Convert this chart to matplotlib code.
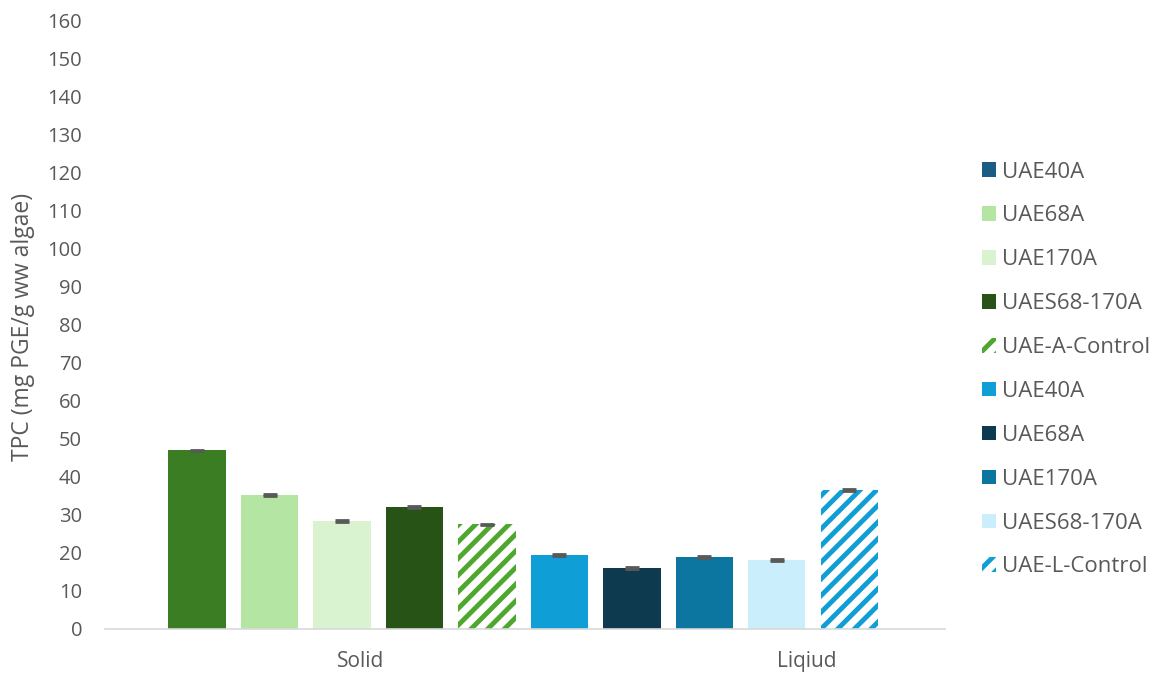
import matplotlib
matplotlib.use("Agg")
import matplotlib.pyplot as plt
from matplotlib.patches import Patch

# data
series = ["UAE40A", "UAE68A", "UAE170A", "UAES68-170A", "UAE-A-Control",
          "UAE40A", "UAE68A", "UAE170A", "UAES68-170A", "UAE-L-Control"]
values = [47.0, 35.2, 28.4, 32.1, 27.5, 19.4, 16.0, 18.9, 18.1, 36.5]
errors = [0.15, 0.2, 0.2, 0.2, 0.2, 0.2, 0.2, 0.2, 0.2, 0.2]
categories = ["Solid", "Liqiud"]
cat_pos = [2.26, 8.41]

bar_colors = ["#3b7d23", "#b4e5a2", "#d9f2d0", "#275317", "#4ea72e",
              "#0f9ed5", "#0e3a50", "#0c76a0", "#caeefb", "#0f9ed5"]
legend_colors = ["#1a5c84", "#b4e5a2", "#d9f2d0", "#275317", "#4ea72e",
                 "#0f9ed5", "#0e3a50", "#0c76a0", "#caeefb", "#0f9ed5"]
hatched = [False, False, False, False, True, False, False, False, False, True]

plt.rcParams['font.family'] = ['Open Sans', 'DejaVu Sans']
plt.rcParams['hatch.linewidth'] = 3.5
txt = "#595959"

fig = plt.figure(figsize=(11.58, 6.75), dpi=100)
ax = fig.add_axes([105/1158, 46/675, 840/1158, 609/675])

x = list(range(len(values)))
for i in x:
    if hatched[i]:
        ax.bar(i, values[i], width=0.79, facecolor="white", edgecolor=bar_colors[i],
               hatch="//", linewidth=0)
    else:
        ax.bar(i, values[i], width=0.79, color=bar_colors[i], linewidth=0)
ax.errorbar(x, values, yerr=errors, fmt="none", ecolor=txt, capsize=5, elinewidth=1,
            capthick=2)

ax.set_xlim(-1.27, 10.32)
ax.set_ylim(0, 160)
ax.set_yticks(range(0, 161, 10))
ax.set_xticks(cat_pos)
ax.set_xticklabels(categories)
ax.tick_params(axis="both", length=0, colors=txt)
ax.tick_params(axis="x", pad=16, labelsize=15)
ax.tick_params(axis="y", pad=16.5, labelsize=14.5)
for s in ["top", "right", "left"]:
    ax.spines[s].set_visible(False)
ax.spines["bottom"].set_color("#d9d9d9")
ax.spines["bottom"].set_linewidth(1.2)

# y label placed by hand like the excel one
fig.text(23/1158, 1 - 327/675, "TPC (mg PGE/g ww algae)", rotation=90,
         ha="center", va="center", fontsize=16.5, color=txt)

handles = []
for i in x:
    if hatched[i]:
        handles.append(Patch(facecolor="white", edgecolor=legend_colors[i], hatch="//", linewidth=0))
    else:
        handles.append(Patch(facecolor=legend_colors[i], linewidth=0))
fig.legend(handles, series, loc="center left", bbox_to_anchor=(982/1158, 1 - 369.5/675),
           frameon=False, fontsize=16, labelcolor=txt, handlelength=0.63,
           handleheight=0.63, handletextpad=0.25, labelspacing=1.03, borderpad=0,
           borderaxespad=0)

fig.savefig("out.png", dpi=100)
